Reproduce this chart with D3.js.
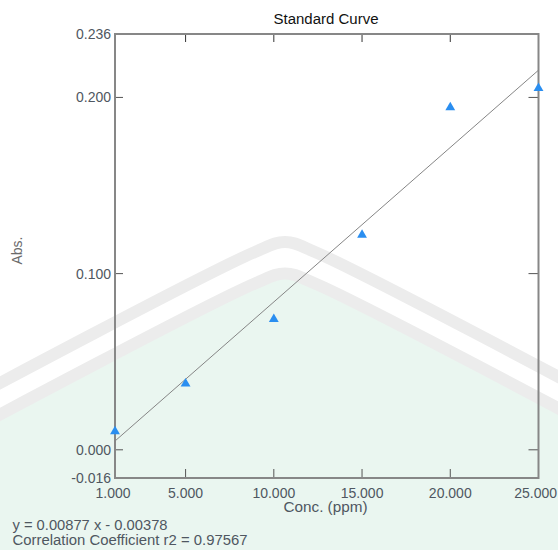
<!DOCTYPE html>
<html>
<head>
<meta charset="utf-8">
<script src="https://cdn.jsdelivr.net/npm/d3@7"></script>
<style>
  body { margin: 0; background: #fff; }
  svg { display: block; font-family: "Liberation Sans", Arial, sans-serif; }
</style>
</head>
<body>
<svg id="chart" width="558" height="550"></svg>
<script>
// data
let conc = [1, 5, 10, 15, 20, 25];
let abs = [0.0104, 0.0375, 0.0741, 0.1220, 0.1943, 0.2053];
let xTicks = [1, 5, 10, 15, 20, 25];
let yTicks = [-0.016, 0.000, 0.100, 0.200, 0.236];
let fit = [0.00877, -0.00378]; // slope, intercept
let fitText = ['y = 0.00877 x - 0.00378', 'Correlation Coefficient r2 = 0.97567'];

let width = 558;
let height = 550;
let pLeft = 115, pRight = 538.5, pTop = 34, pBottom = 478;
let labelColor = '#4f5761';

let svg = d3.select('#chart');

let x = d3.scaleLinear().domain([1, 25]).range([pLeft, pRight]);
let y = d3.scaleLinear().domain([-0.016, 0.236]).range([pBottom, pTop]);

drawBackground();
drawFrame();
drawPoints();
drawLabels();

function drawBackground() {
  svg.append('rect')
    .attr('width', width)
    .attr('height', height)
    .attr('fill', '#fff');

  // light emblem shapes from the scanned page
  let band = d3.line().curve(d3.curveCatmullRom.alpha(0.5));
  let chevron = function(apex) {
    return [[-30, apex + 157], [255, apex + 10], [285, apex], [315, apex + 10], [600, apex + 157]];
  };

  svg.append('path')
    .attr('d', band(chevron(273)) + 'L600,560L-30,560Z')
    .attr('fill', '#eaf6f0');

  [242, 273.5].forEach(function(apex) {
    svg.append('path')
      .attr('d', band(chevron(apex)))
      .attr('fill', 'none')
      .attr('stroke', '#ececec')
      .attr('stroke-width', 12);
  });
}

function drawFrame() {
  let inner = yTicks.filter(function(d) { return d > -0.016 && d < 0.236; });
  let innerX = xTicks.filter(function(d) { return d > 1 && d < 25; });

  inner.forEach(function(d) {
    svg.append('line')
      .attr('x1', pLeft).attr('x2', pLeft + 8)
      .attr('y1', y(d)).attr('y2', y(d))
      .attr('stroke', '#555');
    svg.append('line')
      .attr('x1', pRight - 10).attr('x2', pRight)
      .attr('y1', y(d)).attr('y2', y(d))
      .attr('stroke', '#555');
  });

  innerX.forEach(function(d) {
    svg.append('line')
      .attr('x1', x(d)).attr('x2', x(d))
      .attr('y1', pTop).attr('y2', pTop + 8)
      .attr('stroke', '#333');
    svg.append('line')
      .attr('x1', x(d)).attr('x2', x(d))
      .attr('y1', pBottom - 9).attr('y2', pBottom)
      .attr('stroke', '#555');
  });

  svg.append('rect')
    .attr('x', pLeft)
    .attr('y', pTop)
    .attr('width', pRight - pLeft)
    .attr('height', pBottom - pTop)
    .attr('fill', 'none')
    .attr('stroke', '#878787')
    .attr('stroke-width', 2);

  svg.selectAll('.ylab')
    .data(yTicks)
    .enter().append('text')
    .attr('class', 'ylab')
    .attr('x', pLeft - 4)
    .attr('y', function(d) { return y(d) + 5; })
    .attr('text-anchor', 'end')
    .attr('font-size', 14)
    .attr('fill', labelColor)
    .text(function(d) { return d3.format('.3f')(d).replace('−', '-'); });

  let last = xTicks.length - 1;
  svg.selectAll('.xlab')
    .data(xTicks)
    .enter().append('text')
    .attr('class', 'xlab')
    .attr('x', function(d, i) { return i === last ? 557 : x(d) - (i === 0 ? 2 : 0); })
    .attr('y', 498)
    .attr('text-anchor', function(d, i) { return i === last ? 'end' : 'middle'; })
    .attr('font-size', 14)
    .attr('fill', labelColor)
    .text(function(d) { return d3.format('.3f')(d); });
}

function drawPoints() {
  svg.append('path')
    .attr('d', d3.line()([[x(1), y(fit[0] * 1 + fit[1])], [x(25), y(fit[0] * 25 + fit[1])]]))
    .attr('stroke', '#858585')
    .attr('stroke-width', 1)
    .attr('fill', 'none');

  let tri = d3.symbol().type(d3.symbolTriangle).size(42);
  svg.selectAll('.pt')
    .data(conc)
    .enter().append('path')
    .attr('class', 'pt')
    .attr('d', tri)
    .attr('transform', function(d, i) { return 'translate(' + x(d) + ',' + y(abs[i]) + ')'; })
    .attr('fill', '#2a8ef0');
}

function drawLabels() {
  svg.append('text')
    .attr('x', 326)
    .attr('y', 24)
    .attr('text-anchor', 'middle')
    .attr('font-size', 14)
    .attr('textLength', 105)
    .attr('lengthAdjust', 'spacingAndGlyphs')
    .attr('fill', '#111')
    .text('Standard Curve');

  svg.append('text')
    .attr('x', 325.5)
    .attr('y', 512)
    .attr('text-anchor', 'middle')
    .attr('font-size', 14)
    .attr('textLength', 84)
    .attr('lengthAdjust', 'spacingAndGlyphs')
    .attr('fill', labelColor)
    .text('Conc. (ppm)');

  svg.append('text')
    .attr('transform', 'translate(22,250.5) rotate(-90)')
    .attr('text-anchor', 'middle')
    .attr('font-size', 14)
    .attr('fill', '#6a6a6a')
    .text('Abs.');

  let fitWidths = [155, 235];
  svg.selectAll('.fit')
    .data(fitText)
    .enter().append('text')
    .attr('class', 'fit')
    .attr('x', 12.5)
    .attr('y', function(d, i) { return 530 + i * 15; })
    .attr('font-size', 14)
    .attr('textLength', function(d, i) { return fitWidths[i]; })
    .attr('lengthAdjust', 'spacingAndGlyphs')
    .attr('fill', labelColor)
    .text(function(d) { return d; });
}
</script>
</body>
</html>
